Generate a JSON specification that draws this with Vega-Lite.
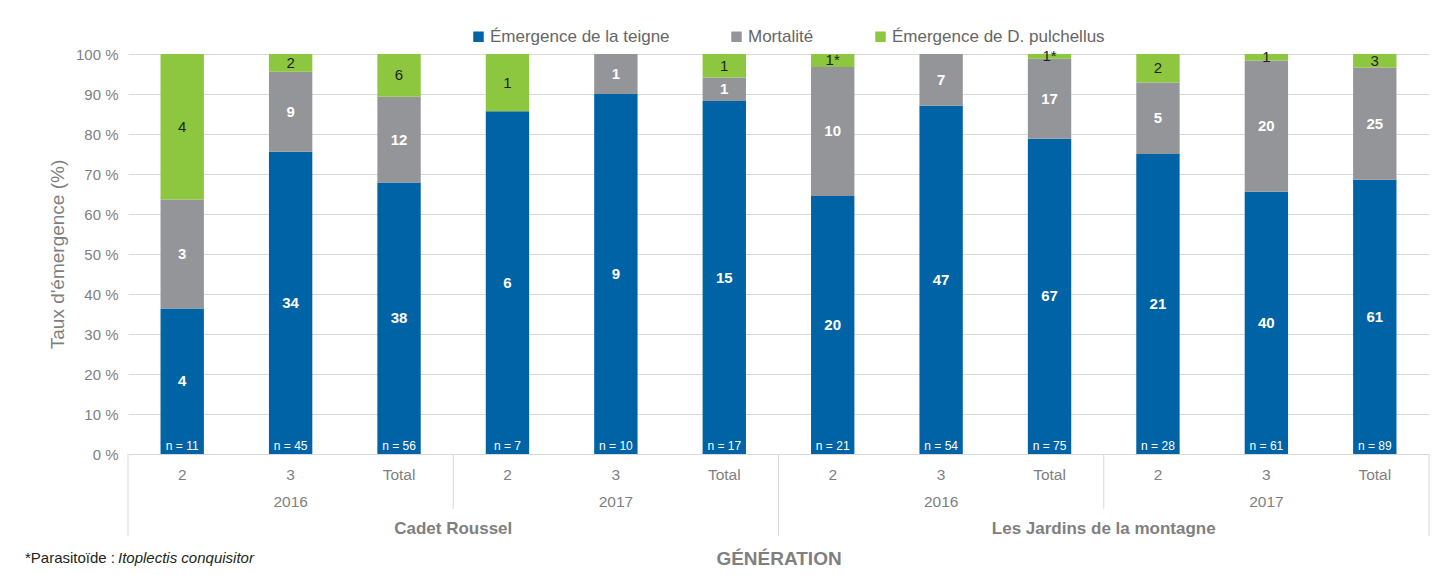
{
  "$schema": "https://vega.github.io/schema/vega-lite/v6.json",
  "background": "white",
  "padding": {"left": 24, "top": 28, "right": 10, "bottom": 5},
  "config": {"font": "Liberation Sans", "view": {"stroke": null}, "concat": {"spacing": 0}},
  "datasets": {
    "seg": [
      {"key": "CR16-2", "cat": "Émergence de la teigne", "ord": 1, "count": 4, "label": "4"},
      {"key": "CR16-2", "cat": "Mortalité", "ord": 2, "count": 3, "label": "3"},
      {"key": "CR16-2", "cat": "Émergence de D. pulchellus", "ord": 3, "count": 4, "label": "4"},
      {"key": "CR16-3", "cat": "Émergence de la teigne", "ord": 1, "count": 34, "label": "34"},
      {"key": "CR16-3", "cat": "Mortalité", "ord": 2, "count": 9, "label": "9"},
      {"key": "CR16-3", "cat": "Émergence de D. pulchellus", "ord": 3, "count": 2, "label": "2"},
      {"key": "CR16-T", "cat": "Émergence de la teigne", "ord": 1, "count": 38, "label": "38"},
      {"key": "CR16-T", "cat": "Mortalité", "ord": 2, "count": 12, "label": "12"},
      {"key": "CR16-T", "cat": "Émergence de D. pulchellus", "ord": 3, "count": 6, "label": "6"},
      {"key": "CR17-2", "cat": "Émergence de la teigne", "ord": 1, "count": 6, "label": "6"},
      {"key": "CR17-2", "cat": "Émergence de D. pulchellus", "ord": 3, "count": 1, "label": "1"},
      {"key": "CR17-3", "cat": "Émergence de la teigne", "ord": 1, "count": 9, "label": "9"},
      {"key": "CR17-3", "cat": "Mortalité", "ord": 2, "count": 1, "label": "1"},
      {"key": "CR17-T", "cat": "Émergence de la teigne", "ord": 1, "count": 15, "label": "15"},
      {"key": "CR17-T", "cat": "Mortalité", "ord": 2, "count": 1, "label": "1"},
      {"key": "CR17-T", "cat": "Émergence de D. pulchellus", "ord": 3, "count": 1, "label": "1"},
      {"key": "LJ16-2", "cat": "Émergence de la teigne", "ord": 1, "count": 20, "label": "20"},
      {"key": "LJ16-2", "cat": "Mortalité", "ord": 2, "count": 10, "label": "10"},
      {"key": "LJ16-2", "cat": "Émergence de D. pulchellus", "ord": 3, "count": 1, "label": "1*"},
      {"key": "LJ16-3", "cat": "Émergence de la teigne", "ord": 1, "count": 47, "label": "47"},
      {"key": "LJ16-3", "cat": "Mortalité", "ord": 2, "count": 7, "label": "7"},
      {"key": "LJ16-T", "cat": "Émergence de la teigne", "ord": 1, "count": 67, "label": "67"},
      {"key": "LJ16-T", "cat": "Mortalité", "ord": 2, "count": 17, "label": "17"},
      {"key": "LJ16-T", "cat": "Émergence de D. pulchellus", "ord": 3, "count": 1, "label": "1*"},
      {"key": "LJ17-2", "cat": "Émergence de la teigne", "ord": 1, "count": 21, "label": "21"},
      {"key": "LJ17-2", "cat": "Mortalité", "ord": 2, "count": 5, "label": "5"},
      {"key": "LJ17-2", "cat": "Émergence de D. pulchellus", "ord": 3, "count": 2, "label": "2"},
      {"key": "LJ17-3", "cat": "Émergence de la teigne", "ord": 1, "count": 40, "label": "40"},
      {"key": "LJ17-3", "cat": "Mortalité", "ord": 2, "count": 20, "label": "20"},
      {"key": "LJ17-3", "cat": "Émergence de D. pulchellus", "ord": 3, "count": 1, "label": "1"},
      {"key": "LJ17-T", "cat": "Émergence de la teigne", "ord": 1, "count": 61, "label": "61"},
      {"key": "LJ17-T", "cat": "Mortalité", "ord": 2, "count": 25, "label": "25"},
      {"key": "LJ17-T", "cat": "Émergence de D. pulchellus", "ord": 3, "count": 3, "label": "3"}
    ],
    "bars": [
      {"key": "CR16-2", "n_label": "n = 11"},
      {"key": "CR16-3", "n_label": "n = 45"},
      {"key": "CR16-T", "n_label": "n = 56"},
      {"key": "CR17-2", "n_label": "n = 7"},
      {"key": "CR17-3", "n_label": "n = 10"},
      {"key": "CR17-T", "n_label": "n = 17"},
      {"key": "LJ16-2", "n_label": "n = 21"},
      {"key": "LJ16-3", "n_label": "n = 54"},
      {"key": "LJ16-T", "n_label": "n = 75"},
      {"key": "LJ17-2", "n_label": "n = 28"},
      {"key": "LJ17-3", "n_label": "n = 61"},
      {"key": "LJ17-T", "n_label": "n = 89"}
    ],
    "axislab": [
      {"key": "CR16-2", "level": "gen", "text": "2"},
      {"key": "CR16-3", "level": "gen", "text": "3"},
      {"key": "CR16-T", "level": "gen", "text": "Total"},
      {"key": "CR17-2", "level": "gen", "text": "2"},
      {"key": "CR17-3", "level": "gen", "text": "3"},
      {"key": "CR17-T", "level": "gen", "text": "Total"},
      {"key": "LJ16-2", "level": "gen", "text": "2"},
      {"key": "LJ16-3", "level": "gen", "text": "3"},
      {"key": "LJ16-T", "level": "gen", "text": "Total"},
      {"key": "LJ17-2", "level": "gen", "text": "2"},
      {"key": "LJ17-3", "level": "gen", "text": "3"},
      {"key": "LJ17-T", "level": "gen", "text": "Total"},
      {"key": "CR16-3", "level": "year", "text": "2016"},
      {"key": "CR17-3", "level": "year", "text": "2017"},
      {"key": "LJ16-3", "level": "year", "text": "2016"},
      {"key": "LJ17-3", "level": "year", "text": "2017"},
      {"key": "CR17-2", "level": "site", "text": "Cadet Roussel"},
      {"key": "LJ17-2", "level": "site", "text": "Les Jardins de la montagne"}
    ],
    "seps": [
      {"key": "CR16-2", "depth": 3, "edge": "start"},
      {"key": "CR17-2", "depth": 2, "edge": "start"},
      {"key": "LJ16-2", "depth": 3, "edge": "start"},
      {"key": "LJ17-2", "depth": 2, "edge": "start"},
      {"key": "LJ17-T", "depth": 3, "edge": "end"}
    ]
  },
  "title": {
    "text": "*Parasitoïde :",
    "orient": "bottom",
    "anchor": "start",
    "frame": "bounds",
    "fontSize": 15,
    "fontWeight": "normal",
    "color": "#231f20",
    "offset": -17,
    "dx": -24
  },
  "spacing": 0,
  "bounds": "flush",
  "vconcat": [
    {
      "width": 1301,
      "height": 400,
      "data": {"name": "seg"},
      "layer": [
        {
          "mark": {"type": "bar"},
          "encoding": {
            "x": {"field": "key", "type": "nominal", "sort": null,
                  "scale": {"type": "band", "paddingInner": 0.6, "paddingOuter": 0.3,
                            "domain": ["CR16-2","CR16-3","CR16-T","CR17-2","CR17-3","CR17-T","LJ16-2","LJ16-3","LJ16-T","LJ17-2","LJ17-3","LJ17-T"]},
                  "axis": null},
            "y": {"field": "count", "type": "quantitative", "stack": "normalize",
                  "scale": {"domain": [0, 1], "nice": false},
                  "axis": {"orient": "left", "title": "Taux d'émergence (%)", "values": [0,0.1,0.2,0.3,0.4,0.5,0.6,0.7,0.8,0.9,1],
                           "labelExpr": "format(datum.value*100, '.0f') + ' %'",
                           "ticks": false, "domain": false, "labelPadding": 10,
                           "labelFontSize": 15, "labelColor": "#7f7f7f",
                           "titleFontSize": 19, "titleFontWeight": "normal", "titleColor": "#7f7f7f", "titlePadding": 7.5,
                           "gridColor": "#d9d9d9", "gridWidth": 1}},
            "color": {"field": "cat", "type": "nominal",
                      "scale": {"domain": ["Émergence de la teigne", "Mortalité", "Émergence de D. pulchellus"],
                                "range": ["#0063a6", "#939598", "#8dc63f"]},
                      "legend": {"orient": "none", "legendX": 342, "legendY": -26, "direction": "horizontal", "title": null,
                                 "symbolType": "square", "symbolSize": 110, "symbolStrokeWidth": 0, "labelLimit": 0,
                                 "labelFontSize": 17, "labelColor": "#666666", "columnPadding": 58, "labelOffset": 3}},
            "order": {"field": "ord", "type": "quantitative"}
          }
        },
        {
          "mark": {"type": "text", "fontSize": 15, "fontWeight": {"expr": "datum.ord == 3 ? 'normal' : 'bold'"}},
          "encoding": {
            "x": {"field": "key", "type": "nominal", "sort": null, "axis": null},
            "y": {"field": "count", "type": "quantitative", "stack": "normalize", "bandPosition": 0.5,
                  "axis": {"orient": "left", "title": null, "labels": false, "ticks": false, "domain": false,
                           "values": [0.02,0.04,0.06,0.08,0.12,0.14,0.16,0.18,0.22,0.24,0.26,0.28,0.32,0.34,0.36,0.38,0.42,0.44,0.46,0.48,0.52,0.54,0.56,0.58,0.62,0.64,0.66,0.68,0.72,0.74,0.76,0.78,0.82,0.84,0.86,0.88,0.92,0.94,0.96,0.98],
                           "gridColor": "#efefef", "gridWidth": 1}},
            "detail": {"field": "cat"},
            "order": {"field": "ord", "type": "quantitative"},
            "text": {"field": "label"},
            "color": {"condition": {"test": "datum.ord == 3", "value": "#231f20"}, "value": "white"}
          }
        },
        {
          "data": {"name": "bars"},
          "mark": {"type": "text", "baseline": "bottom", "dy": -1, "fontSize": 12, "color": "white"},
          "encoding": {
            "x": {"field": "key", "type": "nominal", "sort": null, "axis": null},
            "y": {"datum": 0, "type": "quantitative", "axis": null},
            "text": {"field": "n_label"}
          }
        }
      ],
      "resolve": {"axis": {"y": "independent"}}
    },
    {
      "width": 1301,
      "height": 96,
      "title": {
        "text": "Itoplectis conquisitor",
        "orient": "bottom",
        "anchor": "start",
        "frame": "group",
        "fontSize": 15,
        "fontWeight": "normal",
        "fontStyle": "italic",
        "color": "#231f20",
        "offset": -17,
        "dx": -10
      },
      "layer": [
        {
          "data": {"name": "axislab"},
          "transform": [{"filter": "datum.level != 'site'"}],
          "mark": {"type": "text", "fontSize": 15.5, "color": "#7f7f7f"},
          "encoding": {
            "x": {"field": "key", "type": "nominal", "sort": null,
                  "scale": {"type": "band", "paddingInner": 0, "paddingOuter": 0,
                            "domain": ["CR16-2","CR16-3","CR16-T","CR17-2","CR17-3","CR17-T","LJ16-2","LJ16-3","LJ16-T","LJ17-2","LJ17-3","LJ17-T"]},
                  "axis": {"title": "GÉNÉRATION", "labels": false, "ticks": false, "domain": false, "grid": false,
                           "titleFontSize": 19, "titleFontWeight": "bold", "titleColor": "#7f7f7f", "titlePadding": -1}},
            "y": {"field": "level", "type": "nominal", "scale": {"type": "point", "domain": ["gen", "year", "site"], "padding": 0.78}, "axis": null},
            "text": {"field": "text"}
          }
        },
        {
          "data": {"name": "axislab"},
          "transform": [{"filter": "datum.level == 'site'"}],
          "mark": {"type": "text", "fontSize": 17, "fontWeight": "bold", "color": "#7f7f7f"},
          "encoding": {
            "x": {"field": "key", "type": "nominal", "sort": null, "bandPosition": 0},
            "y": {"field": "level", "type": "nominal", "scale": {"type": "point", "domain": ["gen", "year", "site"], "padding": 0.78}, "axis": null},
            "text": {"field": "text"}
          }
        },
        {
          "data": {"name": "seps"},
          "transform": [{"filter": "datum.edge == 'start'"}],
          "mark": {"type": "rule", "color": "#d9d9d9", "strokeWidth": 1},
          "encoding": {
            "x": {"field": "key", "type": "nominal", "sort": null, "bandPosition": 0},
            "y": {"field": "depth", "type": "quantitative", "scale": {"domain": [0, 3.5], "reverse": true}, "axis": null},
            "y2": {"datum": 0}
          }
        },
        {
          "data": {"name": "seps"},
          "transform": [{"filter": "datum.edge == 'end'"}],
          "mark": {"type": "rule", "color": "#d9d9d9", "strokeWidth": 1},
          "encoding": {
            "x": {"field": "key", "type": "nominal", "sort": null, "bandPosition": 1},
            "y": {"field": "depth", "type": "quantitative", "scale": {"domain": [0, 3.5], "reverse": true}, "axis": null},
            "y2": {"datum": 0}
          }
        }
      ],
      "resolve": {"scale": {"y": "independent"}}
    }
  ]
}
